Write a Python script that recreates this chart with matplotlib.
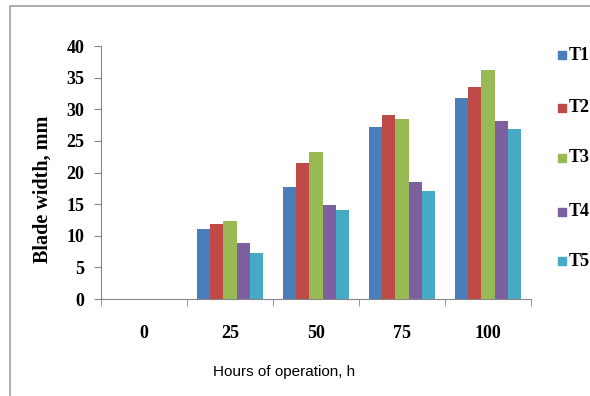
import matplotlib
matplotlib.use("Agg")
from matplotlib import pyplot as plt
from matplotlib.patches import Rectangle
import numpy as np

hours = ['0', '25', '50', '75', '100']
series = ['T1', 'T2', 'T3', 'T4', 'T5']
T1 = [0, 11.0, 17.7, 27.2, 31.8]
T2 = [0, 11.8, 21.5, 29.1, 33.5]
T3 = [0, 12.3, 23.2, 28.4, 36.2]
T4 = [0, 8.8, 14.8, 18.5, 28.1]
T5 = [0, 7.3, 14.1, 17.1, 26.9]
colors = ['#4a7ebb', '#be4b48', '#98b954', '#7d60a0', '#46aac5']

serif = ['Liberation Serif', 'DejaVu Serif']

fig = plt.figure(figsize=(5.9, 3.96), dpi=100)
ax = fig.add_axes([101/590, 1-299/396, 430/590, 253/396])

x = np.arange(len(hours))
w = 0.153
data = [T1, T2, T3, T4, T5]
for i, vals in enumerate(data):
    ax.bar(x + (i - 2) * w, vals, w, color=colors[i], label=series[i], zorder=3)

ax.set_xlim(-0.5, 4.5)
ax.set_ylim(0, 40)
ax.set_yticks(range(0, 41, 5))
ax.set_xticks(x)
ax.set_xticklabels(hours)
ax.set_xticks(np.arange(-0.5, 4.6, 1), minor=True)
ax.tick_params(axis='x', which='major', length=0, pad=19)
ax.tick_params(axis='x', which='minor', length=5, color='#868686')
ax.tick_params(axis='y', length=5, color='#868686', pad=7)
for lab in ax.get_xticklabels() + ax.get_yticklabels():
    lab.set_fontfamily(serif)
    lab.set_fontweight('bold')
    lab.set_fontsize(13)
for s in ['top', 'right']:
    ax.spines[s].set_visible(False)
for s in ['left', 'bottom']:
    ax.spines[s].set_color('#868686')

ax.set_ylabel('Blade width, mm', fontfamily=serif, fontweight='bold', fontsize=14.5)
ax.yaxis.set_label_coords(-(101 - 43) / 430, (299 - 189) / 253)
ax.yaxis.label.set_va('center')
ax.set_xlabel('Hours of operation, h', fontfamily=['Liberation Sans', 'DejaVu Sans'], fontsize=11)
ax.xaxis.set_label_coords((284 - 101) / 430, -(372 - 299) / 253)
ax.xaxis.label.set_va('center')

# legend drawn as separate entries down the right side
ly = [55, 108, 158, 212, 261]
for i, name in enumerate(series):
    yy = 1 - ly[i] / 396
    fig.patches.append(Rectangle((558/590, yy - 4/396), 8/590, 8/396,
                                 transform=fig.transFigure, color=colors[i], figure=fig))
    fig.text(569/590, yy, name, fontfamily=serif, fontweight='bold', fontsize=13,
             va='center', ha='left')

# outer chart border (left and top visible)
fig.patches.append(Rectangle((10/590, -0.1), 1.2, 1 - 6/396 + 0.1, transform=fig.transFigure,
                             fill=False, edgecolor='#a0a0a0', linewidth=1.2, figure=fig))

fig.savefig('out.png', dpi=100)
